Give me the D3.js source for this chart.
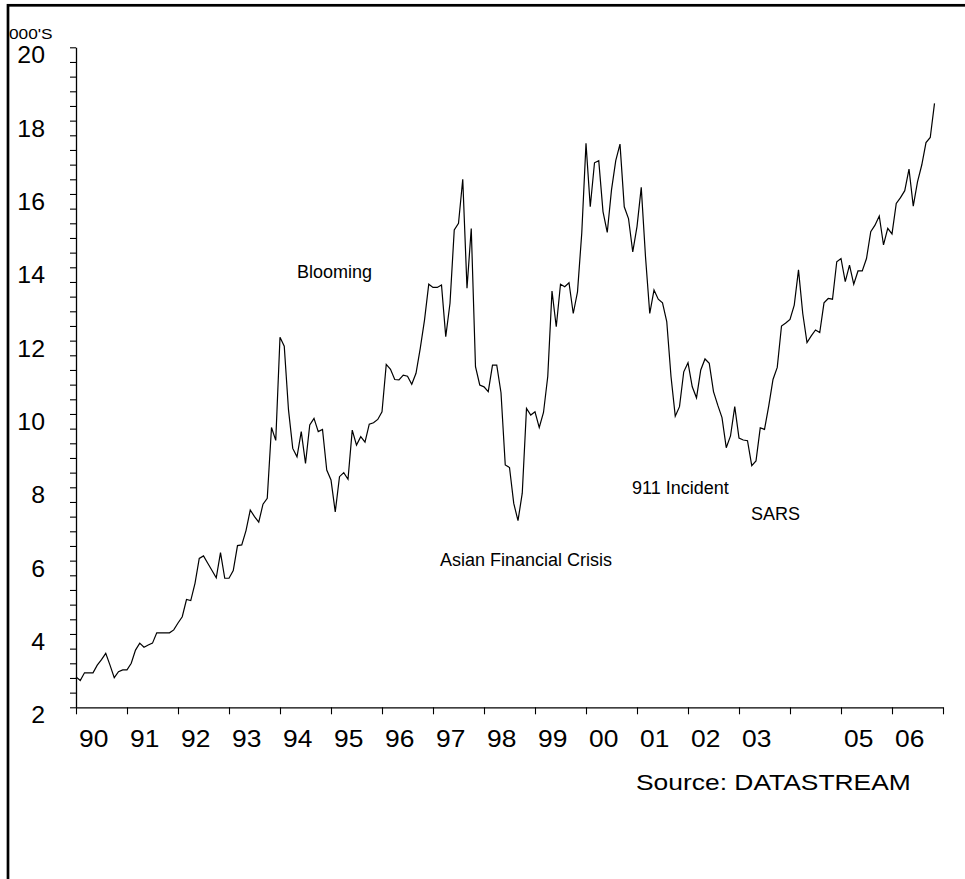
<!DOCTYPE html>
<html>
<head>
<meta charset="utf-8">
<script src="https://cdn.jsdelivr.net/npm/d3@7"></script>
<style>
  html, body { margin: 0; padding: 0; background: #fff; }
  svg { display: block; font-family: "Liberation Sans", Arial, sans-serif; }
</style>
</head>
<body>
<div id="chart"></div>
<script>
// monthly index level, Jan 1990 .. Nov 2006 (thousands)
const v1990 = [2.83, 2.73, 2.94, 2.94, 2.94, 3.15, 3.30, 3.47, 3.15, 2.81, 2.97, 3.02];
const v1991 = [3.02, 3.20, 3.56, 3.75, 3.64, 3.70, 3.75, 4.03, 4.03, 4.03, 4.03, 4.11];
const v1992 = [4.30, 4.47, 4.94, 4.91, 5.38, 6.06, 6.13, 5.93, 5.73, 5.53, 6.22, 5.52];
const v1993 = [5.52, 5.73, 6.41, 6.43, 6.82, 7.38, 7.20, 7.05, 7.54, 7.70, 9.63, 9.28];
const v1994 = [12.09, 11.85, 10.11, 9.06, 8.83, 9.52, 8.65, 9.70, 9.88, 9.52, 9.58, 8.47];
const v1995 = [8.20, 7.33, 8.29, 8.40, 8.22, 9.56, 9.15, 9.38, 9.23, 9.72, 9.76, 9.85];
const v1996 = [10.06, 11.35, 11.22, 10.94, 10.93, 11.06, 11.03, 10.81, 11.11, 11.79, 12.56, 13.54];
const v1997 = [13.45, 13.45, 13.52, 12.11, 13.02, 15.02, 15.20, 16.40, 13.43, 15.06, 11.29, 10.79];
const v1998 = [10.74, 10.61, 11.33, 11.33, 10.58, 8.61, 8.54, 7.56, 7.09, 7.84, 10.15, 9.97];
const v1999 = [10.06, 9.63, 10.04, 11.02, 13.35, 12.38, 13.54, 13.47, 13.58, 12.74, 13.33, 14.93];
const v2000 = [17.38, 15.65, 16.85, 16.91, 15.52, 14.95, 16.11, 16.91, 17.36, 15.65, 15.33, 14.42];
const v2001 = [15.11, 16.18, 14.29, 12.74, 13.38, 13.13, 13.03, 12.52, 11.02, 9.94, 10.20, 11.15];
const v2002 = [11.40, 10.74, 10.44, 11.20, 11.50, 11.38, 10.61, 10.24, 9.90, 9.08, 9.40, 10.20];
const v2003 = [9.34, 9.29, 9.27, 8.59, 8.72, 9.62, 9.58, 10.22, 10.94, 11.27, 12.40, 12.48];
const v2004 = [12.58, 12.97, 13.93, 12.74, 11.95, 12.13, 12.29, 12.22, 13.03, 13.15, 13.13, 14.15];
const v2005 = [14.24, 13.61, 14.06, 13.54, 13.90, 13.90, 14.24, 14.97, 15.15, 15.40, 14.61, 15.06];
const v2006 = [14.91, 15.74, 15.90, 16.09, 16.68, 15.67, 16.33, 16.79, 17.40, 17.54, 18.47];

const yearLabels = ["90", "91", "92", "93", "94", "95", "96", "97", "98", "99",
                    "00", "01", "02", "03", "", "05", "06"];
const yLabels = [2, 4, 6, 8, 10, 12, 14, 16, 18, 20];

const notes = [
    {text: "Blooming", x: 297, y: 278},
    {text: "Asian Financial Crisis", x: 440, y: 566},
    {text: "911 Incident", x: 632, y: 494},
    {text: "SARS", x: 751, y: 520}
];

const values = [].concat(v1990, v1991, v1992, v1993, v1994, v1995, v1996, v1997, v1998,
    v1999, v2000, v2001, v2002, v2003, v2004, v2005, v2006);

const svg = d3.select("#chart")
    .append("svg")
        .attr("width", 965)
        .attr("height", 879);

// frame (right and bottom edges fall outside the page)
svg.append("rect")
    .attr("x", 8)
    .attr("y", 5.3)
    .attr("width", 1100)
    .attr("height", 1000)
    .attr("fill", "none")
    .attr("stroke", "#000")
    .attr("stroke-width", 2.7);

const xScale = d3.scaleLinear()
    .domain([0, 204])
    .range([76, 943]);

const yScale = d3.scaleLinear()
    .domain([2, 20])
    .range([707.3, 47.3]);

// stretch text horizontally a bit, the original lettering is wide
function widen(sel, k) {
    sel.each(function() {
        const w = this.getComputedTextLength();
        if (w > 0) {
            d3.select(this)
                .attr("textLength", w * k)
                .attr("lengthAdjust", "spacingAndGlyphs");
        }
    });
}

// y axis: ticks every 0.4, labels every 2
const yAxis = d3.axisLeft(yScale)
    .tickValues(d3.range(0, 46).map(i => 2 + i * 0.4))
    .tickSize(6)
    .tickSizeOuter(0)
    .tickFormat("");

svg.append("g")
    .attr("transform", "translate(76,0)")
    .call(yAxis)
    .call(g => g.select(".domain").attr("stroke", "#000").attr("stroke-width", 1.3))
    .call(g => g.selectAll(".tick line").attr("stroke", "#000").attr("stroke-width", 1.1));

svg.append("g")
    .selectAll("text")
    .data(yLabels)
    .enter()
    .append("text")
        .attr("x", 45)
        .attr("y", d => yScale(d) + 16)
        .attr("text-anchor", "end")
        .attr("font-size", 23)
        .attr("fill", "#000")
        .text(d => d)
        .call(widen, 1.08);

// x axis: one tick per year start
const xAxis = d3.axisBottom(xScale)
    .tickValues(d3.range(0, 18).map(i => i * 12))
    .tickSize(7)
    .tickSizeOuter(0)
    .tickFormat("");

svg.append("g")
    .attr("transform", "translate(0,707.3)")
    .call(xAxis)
    .call(g => g.select(".domain").attr("stroke", "#000").attr("stroke-width", 1.3))
    .call(g => g.selectAll(".tick line").attr("stroke", "#000").attr("stroke-width", 1.1));

svg.append("g")
    .selectAll("text")
    .data(yearLabels)
    .enter()
    .append("text")
        .attr("x", (d, i) => xScale(i * 12) + 3)
        .attr("y", 747)
        .attr("font-size", 24)
        .attr("fill", "#000")
        .text(d => d)
        .call(widen, 1.1);

svg.append("text")
    .attr("x", 9)
    .attr("y", 39)
    .attr("font-size", 15)
    .text("000'S")
    .call(widen, 1.15);

// the series
const line = d3.line()
    .x((d, i) => xScale(i))
    .y(d => yScale(d));

svg.append("path")
    .datum(values)
    .attr("d", line)
    .attr("fill", "none")
    .attr("stroke", "#000")
    .attr("stroke-width", 1.2)
    .attr("stroke-linejoin", "miter");

svg.append("g")
    .selectAll("text")
    .data(notes)
    .enter()
    .append("text")
        .attr("x", d => d.x)
        .attr("y", d => d.y)
        .attr("font-size", 18)
        .attr("fill", "#000")
        .text(d => d.text);

svg.append("text")
    .attr("x", 636)
    .attr("y", 790)
    .attr("font-size", 22)
    .text("Source: DATASTREAM")
    .call(widen, 1.2);
</script>
</body>
</html>
